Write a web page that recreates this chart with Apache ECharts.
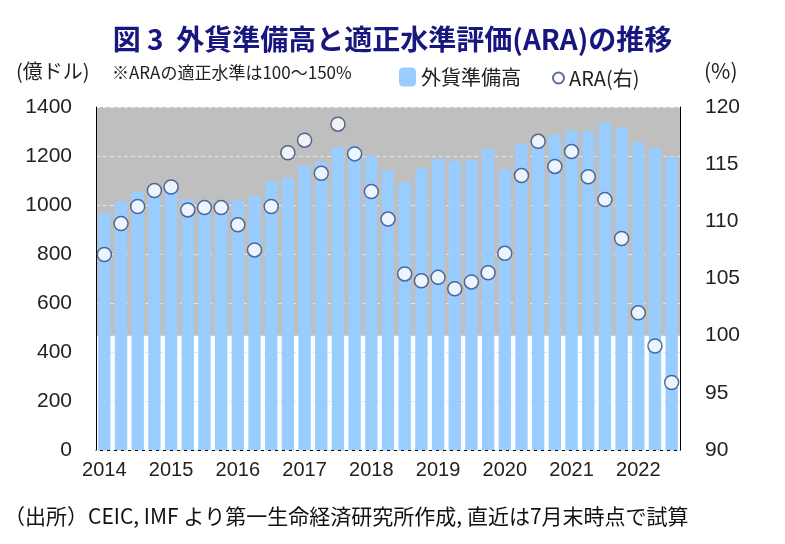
<!DOCTYPE html>
<html>
<head>
<meta charset="utf-8">
<script src="https://cdn.jsdelivr.net/npm/echarts@6/dist/echarts.min.js"></script>
<style>
  html, body { margin: 0; padding: 0; background: #fff; }
  #main { width: 785px; height: 544px; }
</style>
</head>
<body>
<div id="main"></div>
<script>
// 四半期（2014Q1〜2022Q3）
const quarters = [
  '2014Q1', '2014Q2', '2014Q3', '2014Q4',
  '2015Q1', '2015Q2', '2015Q3', '2015Q4',
  '2016Q1', '2016Q2', '2016Q3', '2016Q4',
  '2017Q1', '2017Q2', '2017Q3', '2017Q4',
  '2018Q1', '2018Q2', '2018Q3', '2018Q4',
  '2019Q1', '2019Q2', '2019Q3', '2019Q4',
  '2020Q1', '2020Q2', '2020Q3', '2020Q4',
  '2021Q1', '2021Q2', '2021Q3', '2021Q4',
  '2022Q1', '2022Q2', '2022Q3'
]
// 外貨準備高（億ドル）
const reserves = [
  966, 1016, 1054, 1065,
  1075, 1024, 1015, 1015,
  1020, 1038, 1098, 1111,
  1162, 1177, 1235, 1242,
  1201, 1141, 1095, 1150,
  1188, 1180, 1185, 1231,
  1146, 1249, 1272, 1287,
  1303, 1303, 1337, 1316,
  1257, 1234, 1197
]
// ARA（%）
const ara = [
  107.1, 109.8, 111.3, 112.7,
  113.0, 111.0, 111.2, 111.2,
  109.7, 107.5, 111.3, 116.0,
  117.1, 114.2, 118.5, 115.9,
  112.6, 110.2, 105.4, 104.8,
  105.1, 104.1, 104.7, 105.5,
  107.2, 114.0, 117.0, 114.8,
  116.1, 113.9, 111.9, 108.5,
  102.0, 99.1, 95.9
]

const jp = '"Noto Sans CJK JP", sans-serif'
const num = '"Liberation Sans", Arial, sans-serif'

var myChart = echarts.init(document.getElementById('main'))

var option = {
  animation: false,
  title: {
    text: '図 3  外貨準備高と適正水準評価(ARA)の推移',
    left: 'center',
    top: 20,
    textStyle: { fontFamily: jp, fontSize: 28, fontWeight: 'bold', color: '#17177f' }
  },
  legend: [
    {
      data: [{ name: '外貨準備高', icon: 'roundRect' }],
      left: 394, top: 62,
      itemWidth: 17, itemHeight: 19, itemGap: 4,
      textStyle: { fontFamily: jp, fontSize: 20, color: '#222' }
    },
    {
      data: [{ name: 'ARA(右)', icon: 'circle' }],
      left: 547, top: 63,
      itemWidth: 11, itemHeight: 11, itemGap: 6,
      textStyle: { fontFamily: jp, fontSize: 20, color: '#222' }
    }
  ],
  graphic: [
    { type: 'text', left: 16, top: 61, style: { text: '(億ドル)', font: '20px ' + jp, fill: '#222' } },
    { type: 'text', left: 112, top: 64, style: { text: '※ARAの適正水準は100〜150%', font: '17px ' + jp, fill: '#222' } },
    { type: 'text', left: 704, top: 61, style: { text: '(%)', font: '21px ' + jp, fill: '#222' } },
    { type: 'text', left: 4, top: 506, style: { text: '（出所）CEIC, IMF より第一生命経済研究所作成, 直近は7月末時点で試算', font: '21px ' + jp, fill: '#111' } }
  ],
  grid: { left: 96, right: 105, top: 107, bottom: 94 },
  xAxis: {
    type: 'category',
    data: quarters,
    axisLine: { lineStyle: { color: '#000', width: 1 } },
    axisTick: { show: false },
    axisLabel: {
      interval: 3,
      margin: 10,
      formatter: v => v.slice(0, 4),
      fontFamily: num, fontSize: 20, color: '#222'
    }
  },
  yAxis: [
    {
      type: 'value', min: 0, max: 1400, interval: 200, z: 1,
      axisLine: { show: true, lineStyle: { color: '#000' } },
      axisTick: { show: false },
      axisLabel: { margin: 24, fontFamily: num, fontSize: 21, color: '#222', formatter: v => String(v) },
      splitLine: { lineStyle: { color: '#e6e6e6', type: [4, 3] } }
    },
    {
      type: 'value', min: 90, max: 120, interval: 5, z: 1,
      axisLine: { show: true, lineStyle: { color: '#000' } },
      axisTick: { show: false },
      axisLabel: { margin: 25, fontFamily: num, fontSize: 21, color: '#222' },
      splitLine: { show: false }
    }
  ],
  series: [
    {
      name: '外貨準備高',
      type: 'bar',
      data: reserves,
      barCategoryGap: '26%',
      z: 2,
      itemStyle: { color: '#99ccff', borderRadius: [3, 3, 0, 0] }
    },
    {
      name: 'ARA(右)',
      type: 'scatter',
      yAxisIndex: 1,
      data: ara,
      z: 3,
      symbol: 'circle',
      symbolSize: 14,
      itemStyle: { color: '#fff', borderColor: '#2f4a80', borderWidth: 1.5 },
      markArea: {
        silent: true,
        z: 0,
        itemStyle: { color: '#bfbfbf' },
        data: [[{ yAxis: 100 }, { yAxis: 120 }]]
      }
    }
  ]
}

myChart.setOption(option)
</script>
</body>
</html>
